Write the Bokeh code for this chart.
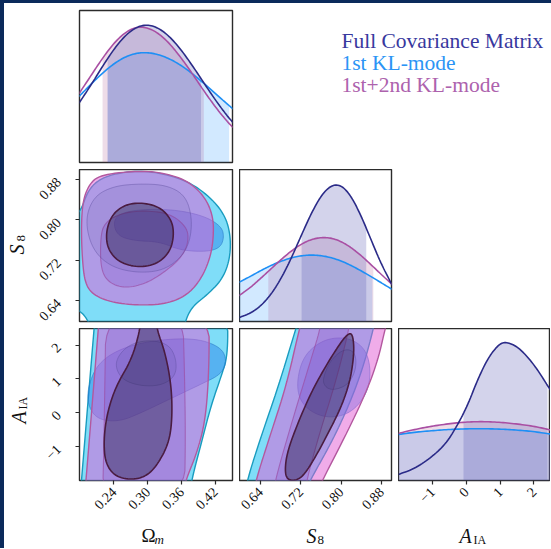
import numpy as np
from bokeh.plotting import figure
from bokeh.layouts import column, row
from bokeh.models import Range1d, FixedTicker, Label, PrintfTickFormatter, CustomJSTickFormatter, Spacer
from bokeh.embed import file_html
from bokeh.resources import INLINE

# ---------------- data ----------------
series_names = ["Full Covariance Matrix", "1st KL-mode", "1st+2nd KL-mode"]

om_ticks = [0.24, 0.30, 0.36, 0.42]
s8_ticks = [0.64, 0.72, 0.80, 0.88]
aia_ticks = [-1, 0, 1, 2]

om_range = [0.179, 0.451]
s8_range = [0.599, 0.900]
aia_range = [-2.0, 2.49]

# 1D marginals (relative height)
om_grid = [0.178, 0.20, 0.22, 0.24, 0.26, 0.28, 0.30, 0.32, 0.34, 0.36, 0.38, 0.40, 0.42, 0.44, 0.452]
om_full = [0.390, 0.513, 0.633, 0.745, 0.835, 0.891, 0.908, 0.884, 0.826, 0.740, 0.636, 0.524, 0.414, 0.314, 0.262]
om_kl1 = [0.434, 0.517, 0.589, 0.650, 0.695, 0.720, 0.724, 0.710, 0.681, 0.638, 0.584, 0.521, 0.456, 0.390, 0.352]
om_kl12 = [0.452, 0.575, 0.687, 0.785, 0.856, 0.892, 0.888, 0.849, 0.780, 0.687, 0.582, 0.472, 0.368, 0.276, 0.230]
om_intervals = {"full": [0.229, 0.395], "kl1": [0.229, 0.445], "kl12": [0.220, 0.400]}

s8_grid = [0.598, 0.62, 0.64, 0.66, 0.68, 0.70, 0.72, 0.74, 0.76, 0.78, 0.80, 0.82, 0.84, 0.86, 0.88, 0.902]
s8_full = [0.026, 0.053, 0.099, 0.171, 0.274, 0.405, 0.556, 0.704, 0.826, 0.896, 0.899, 0.826, 0.694, 0.534, 0.376, 0.235]
s8_kl1 = [0.258, 0.296, 0.333, 0.367, 0.395, 0.418, 0.432, 0.438, 0.434, 0.421, 0.399, 0.369, 0.333, 0.295, 0.254, 0.210]
s8_kl12 = [0.170, 0.222, 0.281, 0.342, 0.404, 0.460, 0.507, 0.539, 0.553, 0.550, 0.527, 0.487, 0.434, 0.372, 0.309, 0.242]
s8_intervals = {"full": [0.722, 0.850], "kl1": [0.598, 0.862], "kl12": [0.656, 0.864]}

aia_grid_full = [-2.0, -1.532, -1.013, -0.597, -0.285, 0.027, 0.338, 0.650, 0.962, 1.170, 1.482, 1.794, 2.105, 2.417, 2.5]
aia_full = [0.040, 0.077, 0.155, 0.243, 0.354, 0.487, 0.664, 0.808, 0.896, 0.912, 0.885, 0.819, 0.730, 0.619, 0.593]
aia_grid = [-2.0, -1.5, -1.0, -0.5, 0.0, 0.5, 1.0, 1.5, 2.0, 2.5]
aia_kl1 = [0.303, 0.318, 0.328, 0.336, 0.340, 0.341, 0.338, 0.332, 0.322, 0.305]
aia_kl12 = [0.310, 0.337, 0.358, 0.374, 0.385, 0.388, 0.383, 0.372, 0.357, 0.332]
aia_intervals = {"full": [-0.08, 2.40], "kl1": [-2.0, 2.5], "kl12": [-2.0, 2.5]}

# 2D contours (outer = 95%, inner = 68%), vertices
om_s8_kl1_95_x = [0.156, 0.180, 0.195, 0.222, 0.269, 0.316, 0.370, 0.411, 0.438, 0.448, 0.446, 0.432, 0.405, 0.379, 0.367, 0.364, 0.201, 0.195, 0.180, 0.156]
om_s8_kl1_95_y = [0.803, 0.813, 0.862, 0.886, 0.897, 0.895, 0.878, 0.846, 0.809, 0.767, 0.720, 0.681, 0.651, 0.628, 0.600, 0.575, 0.575, 0.600, 0.621, 0.628]
om_s8_kl1_68_x = [0.239, 0.257, 0.305, 0.358, 0.405, 0.432, 0.436, 0.429, 0.405, 0.358, 0.322, 0.275, 0.245]
om_s8_kl1_68_y = [0.800, 0.816, 0.822, 0.819, 0.806, 0.786, 0.765, 0.745, 0.737, 0.740, 0.757, 0.759, 0.770]
om_s8_kl12_95_x = [0.216, 0.275, 0.322, 0.370, 0.402, 0.417, 0.417, 0.410, 0.394, 0.370, 0.334, 0.287, 0.239, 0.204, 0.189, 0.184, 0.182, 0.185, 0.197]
om_s8_kl12_95_y = [0.889, 0.897, 0.895, 0.879, 0.846, 0.806, 0.760, 0.720, 0.681, 0.651, 0.634, 0.631, 0.636, 0.651, 0.674, 0.720, 0.786, 0.839, 0.872]
om_s8_kl12_68_x = [0.216, 0.222, 0.251, 0.293, 0.340, 0.370, 0.373, 0.361, 0.334, 0.299, 0.263, 0.233, 0.217]
om_s8_kl12_68_y = [0.760, 0.793, 0.813, 0.819, 0.813, 0.786, 0.757, 0.727, 0.700, 0.675, 0.665, 0.674, 0.700]
om_s8_full_95_x = [0.189, 0.204, 0.239, 0.287, 0.334, 0.367, 0.379, 0.376, 0.361, 0.328, 0.281, 0.233, 0.201]
om_s8_full_95_y = [0.800, 0.846, 0.867, 0.872, 0.869, 0.849, 0.806, 0.760, 0.727, 0.700, 0.695, 0.708, 0.743]
om_s8_full_68_x = [0.287, 0.322, 0.343, 0.347, 0.340, 0.316, 0.281, 0.248, 0.229, 0.226, 0.236, 0.257]
om_s8_full_68_y = [0.835, 0.826, 0.800, 0.770, 0.737, 0.712, 0.706, 0.717, 0.743, 0.776, 0.809, 0.829]

om_aia_kl1_95_x = [0.180, 0.1825, 0.205, 0.2075, 0.4425, 0.4425, 0.431, 0.4125, 0.397, 0.378, 0.375]
om_aia_kl1_95_y = [-2.5, -2.0, 2.5, 3.0, 3.0, 1.684, 1.086, 0.190, -0.805, -2.0, -2.5]
om_aia_kl1_68_x = [0.194, 0.2125, 0.256, 0.319, 0.3875, 0.431, 0.441, 0.431, 0.394, 0.3375, 0.2875, 0.250, 0.2125, 0.194]
om_aia_kl1_68_y = [0.788, 1.484, 1.932, 2.161, 2.201, 1.932, 1.534, 1.136, 0.837, 0.389, -0.009, -0.258, -0.208, 0.190]
om_aia_kl12_95_x = [0.1875, 0.1906, 0.2125, 0.215, 0.4094, 0.4094, 0.4031, 0.3875, 0.3675, 0.3625]
om_aia_kl12_95_y = [-2.5, -2.0, 2.5, 3.0, 3.0, 1.285, -0.208, -1.204, -2.0, -2.5]
om_aia_kl12_68_x = [0.220, 0.222, 0.224, 0.226, 0.3625, 0.3656, 0.3675, 0.3656]
om_aia_kl12_68_y = [-2.5, -1.204, 0.788, 3.0, 3.0, 1.285, -0.706, -2.5]
om_aia_full_95_x = [0.2406, 0.2625, 0.300, 0.3375, 0.3513, 0.350, 0.325, 0.2875, 0.2531]
om_aia_full_95_y = [1.484, 1.982, 2.161, 2.032, 1.584, 1.086, 0.807, 0.788, 0.987]
om_aia_full_68_x = [0.2875, 0.3156, 0.3156, 0.3313, 0.3425, 0.3438, 0.3375, 0.3188, 0.300, 0.275, 0.2438, 0.225, 0.2219, 0.2281, 0.2438, 0.2719, 0.2875]
om_aia_full_68_y = [3.0, 3.0, 2.5, 1.783, 0.788, -0.208, -0.905, -1.502, -1.851, -1.980, -1.900, -1.502, -0.805, -0.009, 0.788, 1.584, 2.5]

s8_aia_kl1_95_x = [0.6097, 0.6139, 0.6416, 0.6762, 0.7109, 0.7213, 0.8703, 0.8647, 0.8426, 0.8148, 0.7802, 0.7386, 0.7247]
s8_aia_kl1_95_y = [-2.5, -2.0, -0.706, 0.788, 2.5, 3.0, 3.0, 2.5, 1.285, 0.190, -0.905, -2.0, -2.5]
s8_aia_kl1_68_x = [0.7109, 0.7247, 0.7663, 0.8148, 0.8495, 0.8599, 0.8495, 0.8148, 0.7663, 0.7247]
s8_aia_kl1_68_y = [0.788, 1.684, 2.181, 2.231, 1.883, 1.186, 0.489, -0.059, -0.158, 0.190]
s8_aia_kl12_95_x = [0.6263, 0.6312, 0.6589, 0.6915, 0.7178, 0.7282, 0.8980, 0.8876, 0.8737, 0.8495, 0.8079, 0.7629, 0.7490]
s8_aia_kl12_95_y = [-2.5, -2.0, -0.706, 0.788, 2.5, 3.0, 3.0, 2.5, 1.584, 0.588, -0.706, -2.0, -2.5]
s8_aia_kl12_68_x = [0.6658, 0.6693, 0.7040, 0.7386, 0.7594, 0.7629, 0.8218, 0.8114, 0.7871, 0.7594, 0.7317, 0.7282]
s8_aia_kl12_68_y = [-2.5, -2.0, -0.208, 1.484, 2.5, 3.0, 3.0, 2.181, 0.788, -0.507, -2.0, -2.5]
s8_aia_full_95_x = [0.7629, 0.7802, 0.8079, 0.8287, 0.8301, 0.8148, 0.7871, 0.7698]
s8_aia_full_95_y = [0.987, 1.584, 1.903, 1.783, 1.285, 0.837, 0.668, 0.738]
s8_aia_full_68_x = [0.8218, 0.8259, 0.8238, 0.8169, 0.8010, 0.7746, 0.7476, 0.7261, 0.7109, 0.6936, 0.6887, 0.6936, 0.7143, 0.7421, 0.7719, 0.7975, 0.8114]
s8_aia_full_68_y = [2.361, 1.982, 1.484, 0.887, 0.190, -0.606, -1.353, -1.851, -2.0, -1.980, -1.701, -1.154, -0.308, 0.638, 1.435, 2.032, 2.301]

# ---------------- styles ----------------
NAVY_EDGE = "#0b2a5b"
LINE = {"full": "#2b2b88", "kl1": "#1e8ff5", "kl12": "#a94fa3"}
FILL1D = {"full": ("#5050b0", 0.25), "kl1": ("#1e90ff", 0.2), "kl12": ("#a8508c", 0.2)}
TEXT = {"full": "#38389e", "kl1": "#2b94f5", "kl12": "#ad62ad"}
CONTOUR = [
    # key, fill, fill_alpha, line, line_alpha, width
    ("kl1_95", "#00bcf2", 0.5, "#1a9cbf", 1.0, 1.4),
    ("kl1_68", "#1e78e8", 0.42, "#2a7cc8", 0.6, 1.0),
    ("kl12_95", "#e15ad3", 0.5, "#b3589f", 1.0, 1.4),
    ("kl12_68", "#7a3cc0", 0.2, "#9b4fa5", 0.7, 1.1),
    ("full_95", "#3a3a8a", 0.1, "#5a4c9a", 0.4, 1.0),
    ("full_68", "#1e193c", 0.38, "#4a1c40", 1.0, 1.6),
]
SERIF = "Liberation Serif"


def chaikin(xs, ys, closed, n=3):
    P = np.column_stack([xs, ys]).astype(float)
    for _ in range(n):
        if closed:
            Q = P
            R = np.roll(P, -1, axis=0)
            P = np.empty((2 * len(Q), 2))
            P[0::2] = 0.75 * Q + 0.25 * R
            P[1::2] = 0.25 * Q + 0.75 * R
        else:
            Q, R = P[:-1], P[1:]
            mid = np.empty((2 * len(Q), 2))
            mid[0::2] = 0.75 * Q + 0.25 * R
            mid[1::2] = 0.25 * Q + 0.75 * R
            P = np.vstack([P[:1], mid, P[-1:]])
    return P[:, 0], P[:, 1]


def base_fig(xr, yr, fw, fh, left, right, top, bottom, xaxis=False, yaxis=False):
    p = figure(x_range=Range1d(*xr), y_range=Range1d(*yr), frame_width=fw, frame_height=fh,
               output_backend="svg", toolbar_location=None,
               x_axis_location="below" if xaxis else None,
               y_axis_location="left" if yaxis else None,
               min_border_left=left, min_border_right=right, min_border_top=top, min_border_bottom=bottom)
    p.outline_line_color = "#2b2b2b"
    p.outline_line_width = 1.4
    p.background_fill_color = "white"
    p.border_fill_color = "white"
    p.grid.visible = False
    return p


def text_fig(w, h):
    p = figure(x_range=Range1d(0, w), y_range=Range1d(0, h), frame_width=w, frame_height=h,
               output_backend="svg", toolbar_location=None, x_axis_location=None, y_axis_location=None,
               min_border=0, outline_line_color=None)
    p.grid.visible = False
    return p


def style_axis(ax, ticks, fmt, standoff):
    ax.ticker = FixedTicker(ticks=ticks)
    ax.formatter = fmt
    ax.major_label_orientation = np.pi / 4
    ax.major_label_text_font = SERIF
    ax.major_label_text_font_size = "14px"
    ax.major_label_text_color = "#111111"
    ax.axis_line_color = None
    ax.major_tick_line_color = "#2b2b2b"
    ax.major_tick_line_width = 1.2
    ax.major_tick_in = 0
    ax.major_tick_out = 4
    ax.minor_tick_line_color = None
    ax.major_label_standoff = standoff


fmt2 = PrintfTickFormatter(format="%.2f")
fmt_int = CustomJSTickFormatter(code="return tick < 0 ? '\u2212' + Math.abs(tick) : String(tick)")


def draw_1d(p, grid_map, interval_map):
    for key in ["kl1", "kl12", "full"]:
        g, v = grid_map[key]
        lo, hi = interval_map[key]
        sx, sy = chaikin(g, v, closed=False)
        inside = (sx >= lo) & (sx <= hi)
        fx = np.concatenate([[lo], sx[inside], [hi]])
        fy = np.concatenate([[np.interp(lo, sx, sy)], sy[inside], [np.interp(hi, sx, sy)]])
        c, a = FILL1D[key]
        p.varea(x=fx, y1=0, y2=fy, fill_color=c, fill_alpha=a)
    for key in ["kl1", "kl12", "full"]:
        g, v = grid_map[key]
        sx, sy = chaikin(g, v, closed=False)
        p.line(sx, sy, line_color=LINE[key], line_width=1.6)


def draw_2d(p, contours):
    for key, fc, fa, lc, la, lw in CONTOUR:
        xs, ys = contours[key]
        sx, sy = chaikin(xs, ys, closed=True)
        p.patch(sx, sy, fill_color=fc, fill_alpha=fa, line_color=lc, line_alpha=la, line_width=lw)


def label(p, x, y, text, size, italic=False, angle=0.0, align="center"):
    p.add_layout(Label(x=x, y=y, x_units="screen", y_units="screen", text=text, angle=angle,
                       text_font=SERIF, text_font_size=size, text_color="#111111",
                       text_font_style="italic" if italic else "normal",
                       text_align=align, text_baseline="middle"))


FW0, FW1, FW2, FH = 153, 152, 152, 152
LW = 26          # width of the left axis-label strip
BB = 38          # bottom border for the tick labels
LEFT_B = 49      # left border for y tick labels

# row 0
p00 = base_fig(om_range, [0, 1], FW0, FH, LEFT_B, 7, 7, 7)
draw_1d(p00, {"full": (om_grid, om_full), "kl1": (om_grid, om_kl1), "kl12": (om_grid, om_kl12)}, om_intervals)

leg = text_fig(311, 166)
for i, key in enumerate(["full", "kl1", "kl12"]):
    leg.add_layout(Label(x=102, y=136 - 22 * i, x_units="screen", y_units="screen", text=series_names[i],
                         text_font=SERIF, text_font_size="21.5px", text_color=TEXT[key],
                         text_align="left", text_baseline="alphabetic"))

# row 1
p10 = base_fig(om_range, s8_range, FW0, FH, LEFT_B, 7, 0, 7, yaxis=True)
style_axis(p10.yaxis[0], s8_ticks, fmt2, 17)
draw_2d(p10, {"kl1_95": (om_s8_kl1_95_x, om_s8_kl1_95_y), "kl1_68": (om_s8_kl1_68_x, om_s8_kl1_68_y),
              "kl12_95": (om_s8_kl12_95_x, om_s8_kl12_95_y), "kl12_68": (om_s8_kl12_68_x, om_s8_kl12_68_y),
              "full_95": (om_s8_full_95_x, om_s8_full_95_y), "full_68": (om_s8_full_68_x, om_s8_full_68_y)})

p11 = base_fig(s8_range, [0, 1], FW1, FH, 0, 7, 0, 7)
draw_1d(p11, {"full": (s8_grid, s8_full), "kl1": (s8_grid, s8_kl1), "kl12": (s8_grid, s8_kl12)}, s8_intervals)

# row 2
p20 = base_fig(om_range, aia_range, FW0, FH, LEFT_B, 7, 0, BB, xaxis=True, yaxis=True)
style_axis(p20.xaxis[0], om_ticks, fmt2, 5)
style_axis(p20.yaxis[0], aia_ticks, fmt_int, 17)
draw_2d(p20, {"kl1_95": (om_aia_kl1_95_x, om_aia_kl1_95_y), "kl1_68": (om_aia_kl1_68_x, om_aia_kl1_68_y),
              "kl12_95": (om_aia_kl12_95_x, om_aia_kl12_95_y), "kl12_68": (om_aia_kl12_68_x, om_aia_kl12_68_y),
              "full_95": (om_aia_full_95_x, om_aia_full_95_y), "full_68": (om_aia_full_68_x, om_aia_full_68_y)})

p21 = base_fig(s8_range, aia_range, FW1, FH, 0, 7, 0, BB, xaxis=True)
style_axis(p21.xaxis[0], s8_ticks, fmt2, 5)
draw_2d(p21, {"kl1_95": (s8_aia_kl1_95_x, s8_aia_kl1_95_y), "kl1_68": (s8_aia_kl1_68_x, s8_aia_kl1_68_y),
              "kl12_95": (s8_aia_kl12_95_x, s8_aia_kl12_95_y), "kl12_68": (s8_aia_kl12_68_x, s8_aia_kl12_68_y),
              "full_95": (s8_aia_full_95_x, s8_aia_full_95_y), "full_68": (s8_aia_full_68_x, s8_aia_full_68_y)})

p22 = base_fig(aia_range, [0, 1], FW2, FH, 0, 0, 0, BB, xaxis=True)
style_axis(p22.xaxis[0], aia_ticks, fmt_int, 5)
draw_1d(p22, {"full": (aia_grid_full, aia_full), "kl1": (aia_grid, aia_kl1), "kl12": (aia_grid, aia_kl12)}, aia_intervals)

# axis-label strips (left: rotated labels; bottom: x labels)
left_h = 159 + FH + BB
left_lab = text_fig(LW, left_h)
label(left_lab, 12, 269, "S", "20px", italic=True, angle=np.pi / 2)
label(left_lab, 16, 277, "8", "13px", angle=np.pi / 2, align="left")
label(left_lab, 14, 101, "A", "20px", italic=True, angle=np.pi / 2)
label(left_lab, 18, 109, "IA", "12px", angle=np.pi / 2, align="left")

bot_lab = text_fig(546, 30)
label(bot_lab, 144, 13, "Ω", "19px")
label(bot_lab, 150, 9, "m", "13px", italic=True, align="left")
label(bot_lab, 307, 13, "S", "20px", italic=True)
label(bot_lab, 313, 9, "8", "13px", align="left")
label(bot_lab, 461, 13, "A", "20px", italic=True)
label(bot_lab, 469, 9, "IA", "12px", align="left")

main = column(
    row(Spacer(width=LW, height=166), p00, leg),
    row(left_lab, column(row(p10, p11, Spacer(width=152, height=159)), row(p20, p21, p22))),
    bot_lab,
)
page = column(
    Spacer(width=551, height=3, styles={"background-color": NAVY_EDGE}),
    row(Spacer(width=4, height=545, styles={"background-color": NAVY_EDGE}), main),
)

open("out.html", "w").write(file_html(page, INLINE))
